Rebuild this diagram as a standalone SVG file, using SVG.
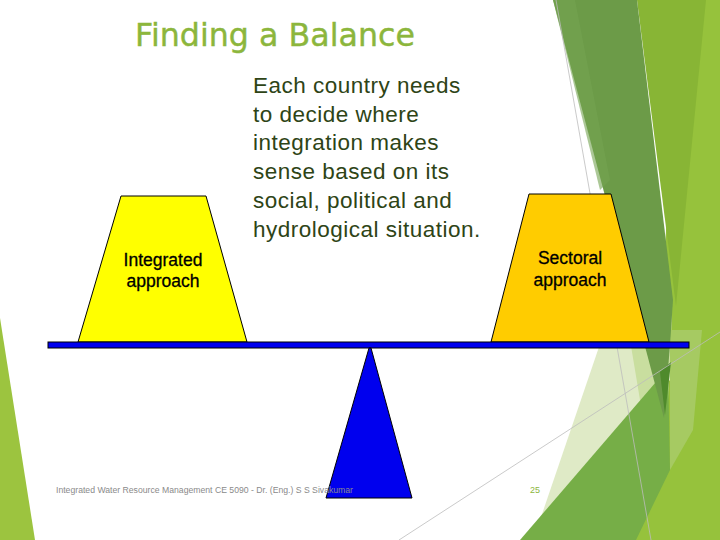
<svg xmlns="http://www.w3.org/2000/svg" width="720" height="540" viewBox="0 0 720 540">
<style>
.lbl{font-family:"Liberation Sans",Arial,sans-serif;font-size:17.5px;fill:#000;text-anchor:middle;stroke:#000;stroke-width:0.3}
.body{font-family:"Liberation Sans",Arial,sans-serif;font-size:22.5px;letter-spacing:0.5px;fill:#2e4416}
.title{font-family:"DejaVu Sans",Verdana,sans-serif;font-size:32px;fill:#8cb63c;stroke:#8cb63c;stroke-width:0.4}
.foot{font-family:"Liberation Sans",Arial,sans-serif;font-size:8.5px;fill:#8a8a8a}
.edge{stroke:#000;stroke-width:1}
.thin{stroke:#bdbdbd;stroke-width:0.8;fill:none}
</style>
<rect width="720" height="540" fill="#fff"/>
<g id="decor">
  <polygon points="0,318 0,540 35,540" fill="#9cc43f"/>
  <polygon points="680,0 720,0 720,540 600,540 660,330" fill="#96c23c"/>
  <polygon points="637,0 706,0 676,306" fill="#88b535"/>
  <polygon points="615,300 672,300 670,380 548,512 540,520" fill="#dfeac6"/>
  <polygon points="630,340 672,330 668,400 640,400" fill="#c9de9f"/>
  <polygon points="670,330 702,330 693,430 670,470" fill="#a6ca62"/>
  <polygon points="520,540 668,368 670,470 636,540" fill="#76ae47"/>
  <polygon points="553,0 637,0 673,300 670,345 664,418" fill="#6c9b48"/>
  <polygon points="553,0 575,0 610,180 600,190" fill="#74a352" opacity="0.6"/>
  <polygon points="660,372 671,362 665,415" fill="#4f8a2c"/>
  <line class="thin" x1="556" y1="0" x2="651" y2="540"/>
  <line class="thin" x1="399" y1="540" x2="720" y2="332"/>
</g>
<g id="title">
  <text class="title" x="135" y="46" textLength="280" lengthAdjust="spacingAndGlyphs">Finding a Balance</text>
</g>
<g id="description">
  <text class="body" x="253" y="93">Each country needs</text>
  <text class="body" x="253" y="122">to decide where</text>
  <text class="body" x="253" y="150">integration makes</text>
  <text class="body" x="253" y="179">sense based on its</text>
  <text class="body" x="253" y="208">social, political and</text>
  <text class="body" x="253" y="237">hydrological situation.</text>
</g>
<g id="integrated">
  <polygon class="edge" points="121,196 206,196 247,342 78,342" fill="#ffff00"/>
  <text class="lbl" x="163" y="266">Integrated</text>
  <text class="lbl" x="163" y="287">approach</text>
</g>
<g id="sectoral">
  <polygon class="edge" points="529,194 611,194 649,342 491,342" fill="#ffcc00"/>
  <text class="lbl" x="570" y="264">Sectoral</text>
  <text class="lbl" x="570" y="286">approach</text>
</g>
<g id="beam">
  <rect class="edge" x="48" y="342" width="641" height="6" fill="#0000ee"/>
</g>
<g id="fulcrum">
  <polygon class="edge" points="369,348 371,348 412,498 326,498" fill="#0000ee"/>
</g>
<g id="footer">
  <text class="foot" x="56" y="493" textLength="297" lengthAdjust="spacingAndGlyphs">Integrated Water Resource Management CE 5090 - Dr. (Eng.) S S Sivakumar</text>
  <text class="foot" x="530" y="493" style="fill:#8cb63c;font-size:9px">25</text>
</g>
</svg>
